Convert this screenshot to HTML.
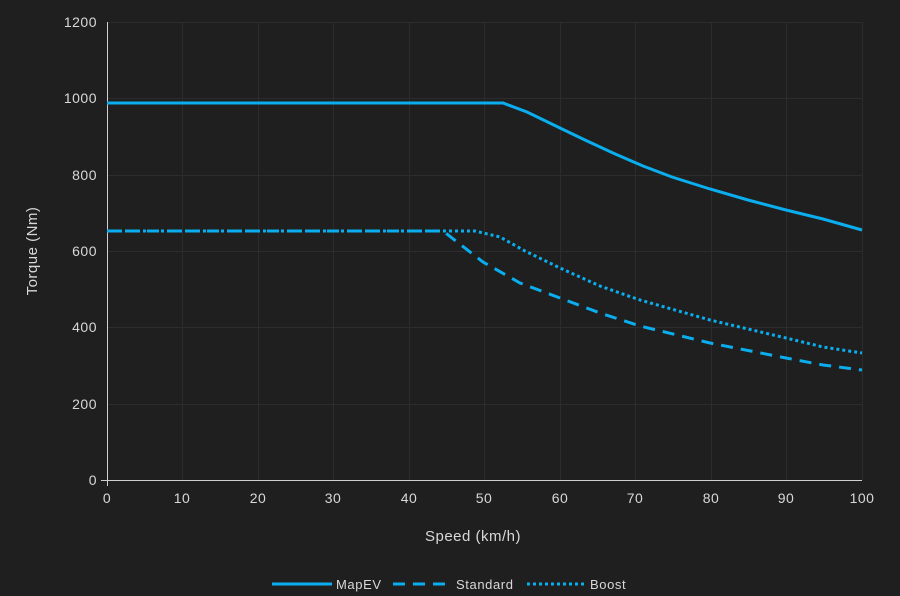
<!DOCTYPE html>
<html><head><meta charset="utf-8"><style>
body{margin:0;background:#1f1f1f;}
svg{display:block;font-family:"Liberation Sans",sans-serif;}
</style></head><body>
<svg width="900" height="596" viewBox="0 0 900 596">
<rect width="900" height="596" fill="#1f1f1f"/>
<g stroke="#2c2c2c" stroke-width="1">
<line x1="107" x2="862" y1="22.5" y2="22.5"/><line x1="107" x2="862" y1="98.5" y2="98.5"/><line x1="107" x2="862" y1="175.5" y2="175.5"/><line x1="107" x2="862" y1="251.5" y2="251.5"/><line x1="107" x2="862" y1="327.5" y2="327.5"/><line x1="107" x2="862" y1="404.5" y2="404.5"/>
<line y1="22" y2="480" x1="182.5" x2="182.5"/><line y1="22" y2="480" x1="258.5" x2="258.5"/><line y1="22" y2="480" x1="333.5" x2="333.5"/><line y1="22" y2="480" x1="409.5" x2="409.5"/><line y1="22" y2="480" x1="484.5" x2="484.5"/><line y1="22" y2="480" x1="560.5" x2="560.5"/><line y1="22" y2="480" x1="635.5" x2="635.5"/><line y1="22" y2="480" x1="711.5" x2="711.5"/><line y1="22" y2="480" x1="786.5" x2="786.5"/><line y1="22" y2="480" x1="862.5" x2="862.5"/>
</g>
<g stroke="#d0d0d0" stroke-width="1"><line x1="107.5" x2="107.5" y1="22" y2="486"/><line x1="101" x2="862" y1="480.5" y2="480.5"/></g>
<g fill="#d8d8d8" font-size="14" text-anchor="end" letter-spacing="0.5">
<text x="97" y="27">1200</text><text x="97" y="103">1000</text><text x="97" y="180">800</text><text x="97" y="256">600</text><text x="97" y="332">400</text><text x="97" y="409">200</text><text x="97" y="485">0</text>
</g>
<g fill="#d8d8d8" font-size="14" text-anchor="middle" letter-spacing="0.5">
<text x="107" y="503">0</text><text x="182" y="503">10</text><text x="258" y="503">20</text><text x="333" y="503">30</text><text x="409" y="503">40</text><text x="484" y="503">50</text><text x="560" y="503">60</text><text x="635" y="503">70</text><text x="711" y="503">80</text><text x="786" y="503">90</text><text x="862" y="503">100</text>
<text x="473" y="541" font-size="15">Speed (km/h)</text>
<text transform="translate(37,251) rotate(-90)" font-size="15">Torque (Nm)</text>
</g>
<g fill="none" stroke="#0aaeee" stroke-width="3">
<polyline points="107,103 503,103 527,112 560,128 585,140 613,153 643,166 672,177 710,189 748,200 786,210 823,219 862,230"/>
<polyline stroke-dasharray="12,8" points="107,231 443,231 483,262 520,283 560,298 600,313 640,326 710,343 786,358 823,365 862,370"/>
<polyline stroke-dasharray="3,3" points="107,231 475,231 500,237 525,251 560,268 600,286 640,300 710,320 786,338 823,347 862,353"/>
</g>
<g stroke="#0aaeee" stroke-width="3">
<line x1="272" x2="332" y1="584" y2="584"/>
<line x1="393" x2="447" y1="584" y2="584" stroke-dasharray="12,8"/>
<line x1="527" x2="584" y1="584" y2="584" stroke-dasharray="3,3"/>
</g>
<g fill="#d8d8d8" font-size="13" letter-spacing="0.6">
<text x="336" y="589">MapEV</text><text x="456" y="589">Standard</text><text x="590" y="589">Boost</text>
</g>
</svg>
</body></html>
